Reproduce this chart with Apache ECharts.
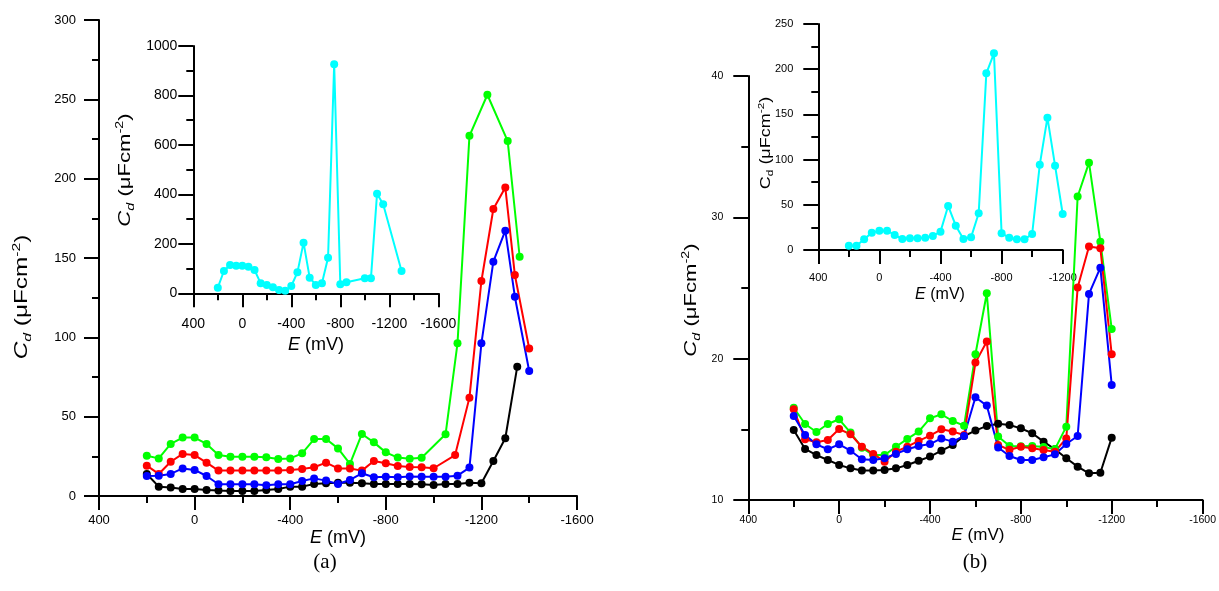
<!DOCTYPE html>
<html><head><meta charset="utf-8">
<script src="https://cdn.jsdelivr.net/npm/echarts@6/dist/echarts.min.js"></script>
<style>html,body{margin:0;padding:0;background:#fff}#c{width:1219px;height:591px}</style>
</head><body><div id="c"></div>
<script>
// ---------- Panel (a) main ----------
const aE_black = [200,150,100,50,0,-50,-100,-150,-200,-250,-300,-350,-400,-450,-500,-550,-600,-650,-700,-750,-800,-850,-900,-950,-1000,-1050,-1100,-1150,-1200,-1250,-1300,-1350];
const aCd_black = [13.9,5.9,5.3,4.4,4.4,3.8,3.4,3.2,3.2,3.2,3.8,4.4,5.9,5.9,7.6,8.0,8.4,8.4,8.0,7.6,7.6,7.6,7.6,7.4,6.9,7.6,7.6,8.4,8.0,22.1,36.4,81.5];
const aE_green = [200,150,100,50,0,-50,-100,-150,-200,-250,-300,-350,-400,-450,-500,-550,-600,-650,-700,-750,-800,-850,-900,-950,-1050,-1100,-1150,-1225,-1310,-1360];
const aCd_green = [25.4,23.7,32.8,36.8,36.8,32.8,25.8,24.8,24.8,24.8,24.4,23.3,23.7,26.9,35.9,35.9,30.0,20.2,39.1,33.8,27.5,24.2,23.5,24.1,38.9,96.2,227,252.9,223.7,150.8];
const aE_red = [200,150,100,50,0,-50,-100,-150,-200,-250,-300,-350,-400,-450,-500,-550,-600,-650,-700,-750,-800,-850,-900,-950,-1000,-1090,-1150,-1200,-1250,-1300,-1340,-1400];
const aCd_red = [19.1,13.9,21.6,26.5,25.8,21.0,16.0,16.0,16.0,16.0,16.0,16.0,16.4,17.0,18.1,21.0,17.4,17.4,16.0,22.1,20.6,18.9,18.3,18.1,17.5,25.8,62,135.5,180.9,194.5,139.3,93];
const aE_blue = [200,150,100,50,0,-50,-100,-150,-200,-250,-300,-350,-400,-450,-500,-550,-600,-650,-700,-750,-800,-850,-900,-950,-1000,-1050,-1100,-1150,-1200,-1250,-1300,-1340,-1400];
const aCd_blue = [12.6,12.8,13.9,17.4,16.4,12.6,7.4,7.4,7.4,7.4,6.7,7.4,7.4,9.5,11.1,9.7,7.6,10.1,14.3,11.8,12.2,11.8,12.3,12.2,12.2,12.2,12.8,17.9,96.2,147.7,167.2,125.6,78.8];
// ---------- Panel (a) inset ----------
const aiE_cyan = [200,150,100,50,0,-50,-100,-150,-200,-250,-300,-350,-400,-450,-500,-550,-600,-650,-700,-750,-800,-850,-1000,-1050,-1100,-1150,-1300];
const aiCd_cyan = [22.9,90.2,114.5,111.8,111.8,107.7,94.2,40.4,33.7,24.1,13.5,10.6,29.5,84.8,204.8,63.2,33.7,40.4,144.1,925.9,36.3,44.4,60.5,60.5,402.9,359.8,90.2];
// ---------- Panel (b) main ----------
const bE = [200,150,100,50,0,-50,-100,-150,-200,-250,-300,-350,-400,-450,-500,-550,-600,-650,-700,-750,-800,-850,-900,-950,-1000,-1050,-1100,-1150,-1200];
const bCd_black = [14.95,13.61,13.18,12.83,12.48,12.24,12.08,12.08,12.12,12.24,12.48,12.78,13.07,13.49,13.89,14.53,14.91,15.24,15.4,15.31,15.07,14.72,14.13,13.59,12.95,12.36,11.89,11.93,14.41];
const bCd_green = [16.53,15.38,14.81,15.38,15.71,14.77,13.70,13.18,13.18,13.77,14.32,14.84,15.78,16.06,15.59,15.26,20.31,24.63,14.5,13.82,13.8,13.82,13.75,13.6,15.19,31.47,33.87,28.28,22.1];
const bCd_red = [16.42,14.29,14.08,14.25,15.02,14.65,13.77,13.26,12.71,13.42,13.77,14.18,14.55,15.0,14.84,14.6,19.72,21.21,13.89,13.55,13.77,13.66,13.54,13.42,14.36,25.03,27.93,27.81,20.31];
const bCd_blue = [15.94,14.6,13.94,13.59,13.94,13.49,12.88,12.83,12.95,13.26,13.59,13.82,13.96,14.36,14.13,14.53,17.27,16.68,13.72,13.11,12.83,12.83,13.02,13.23,13.96,14.53,24.58,26.44,18.14];
// ---------- Panel (b) inset ----------
const biCd_cyan = [4.8,4.8,11.8,19.2,21.4,21.4,16.6,12.2,12.9,12.9,13.6,15.5,20.3,48.7,26.9,12.2,14.0,40.6,195.4,217.6,18.4,13.6,11.8,11.8,17.7,94.4,146.4,93.3,39.8];
// ---------- tick settings ----------
const xTicksMain = {min:-1600, max:400, step:400};
const xTicksInsetB = {min:-1200, max:400, step:400};
const yTicksA = {min:0, max:300, step:50};
const yTicksAI = {min:0, max:1000, step:200};
const yTicksB = {min:10, max:40, step:10};
const yTicksBI = {min:0, max:250, step:50};

const FONT = "'Liberation Sans', Arial, sans-serif";
const zip = (xs, ys) => xs.map((x, i) => [x, ys[i]]);
const plain = v => String(v);

function xAx(g, t, fs, margin) {
  return {type:'value', gridIndex:g, min:t.min, max:t.max, interval:t.step, inverse:true,
    axisLine:{show:true, onZero:false, lineStyle:{color:'#000', width:2}},
    axisTick:{show:true, length:14, lineStyle:{color:'#000', width:2}},
    minorTick:{show:true, splitNumber:2, length:7, lineStyle:{color:'#000', width:2}},
    splitLine:{show:false}, minorSplitLine:{show:false},
    axisLabel:{color:'#000', fontSize:fs, fontFamily:FONT, margin:margin, showMinLabel:true, showMaxLabel:true, formatter:plain}};
}
function yAx(g, t, fs, margin) {
  return {type:'value', gridIndex:g, min:t.min, max:t.max, interval:t.step,
    axisLine:{show:true, onZero:false, lineStyle:{color:'#000', width:2}},
    axisTick:{show:true, length:15, lineStyle:{color:'#000', width:2}},
    minorTick:{show:true, splitNumber:2, length:7, lineStyle:{color:'#000', width:2}},
    splitLine:{show:false}, minorSplitLine:{show:false},
    axisLabel:{color:'#000', fontSize:fs, fontFamily:FONT, margin:margin, showMinLabel:true, showMaxLabel:true, formatter:plain}};
}
function ser(xi, yi, data, color, size) {
  return {type:'line', xAxisIndex:xi, yAxisIndex:yi, data:data, symbol:'circle', symbolSize:size||8,
    showSymbol:true, lineStyle:{color:color, width:2}, itemStyle:{color:color}, animation:false, clip:false};
}
function cdLabel(x, y, F, italic, sx) {
  const fi = italic ? 'italic' : 'normal';
  return {type:'text', x:x, y:y, rotation:Math.PI/2, scaleX:sx||1, z:100,
    style:{text:'{c|C}{s|d}{n| (μFcm}{p|-2}{n|)}', align:'center', verticalAlign:'middle', fill:'#000',
      fontFamily:FONT, fontSize:F,
      rich:{
        c:{fontStyle:fi, fontSize:F, fontFamily:FONT, lineHeight:F*1.3, fill:'#000'},
        s:{fontStyle:fi, fontSize:F*0.65, fontFamily:FONT, verticalAlign:'bottom', lineHeight:F*0.65, fill:'#000'},
        n:{fontSize:F, fontFamily:FONT, lineHeight:F*1.3, fill:'#000'},
        p:{fontSize:F*0.65, fontFamily:FONT, verticalAlign:'top', lineHeight:F*0.65, fill:'#000'}
      }}};
}
function eLabel(x, y, F) {
  return {type:'text', x:x, y:y, z:100,
    style:{text:'{e|E}{n| (mV)}', align:'center', verticalAlign:'middle', fill:'#000', fontFamily:FONT, fontSize:F,
      rich:{e:{fontStyle:'italic', fontSize:F, fontFamily:FONT, fill:'#000'}, n:{fontSize:F, fontFamily:FONT, fill:'#000'}}}};
}

const option = {
  animation:false,
  backgroundColor:'#fff',
  grid:[
    {left:99, top:20, width:478, height:476},
    {left:193.3, top:46, width:245, height:247.3},
    {left:748.3, top:76, width:459.7, height:424},
    {left:818.3, top:24, width:244.4, height:226}
  ],
  xAxis:[xAx(0, xTicksMain, 13, 18), xAx(1, xTicksMain, 14, 24), xAx(2, xTicksMain, 10.5, 15), xAx(3, xTicksInsetB, 11, 22)],
  yAxis:[yAx(0, yTicksA, 13, 23), yAx(1, yTicksAI, 14, 16), yAx(2, yTicksB, 10.5, 25), yAx(3, yTicksBI, 11, 25)],
  series:[
    ser(0,0, zip(aE_black, aCd_black), '#000000'),
    ser(0,0, zip(aE_green, aCd_green), '#00ff00'),
    ser(0,0, zip(aE_red, aCd_red), '#ff0000'),
    ser(0,0, zip(aE_blue, aCd_blue), '#0000ff'),
    ser(1,1, zip(aiE_cyan, aiCd_cyan), '#00ffff'),
    ser(2,2, zip(bE, bCd_black), '#000000'),
    ser(2,2, zip(bE, bCd_green), '#00ff00'),
    ser(2,2, zip(bE, bCd_red), '#ff0000'),
    ser(2,2, zip(bE, bCd_blue), '#0000ff'),
    ser(3,3, zip(bE, biCd_cyan), '#00ffff')
  ],
  graphic:[
    cdLabel(22, 297, 18, true, 1.35),
    cdLabel(125, 170, 17, true, 1.3),
    cdLabel(691, 300, 17, true, 1.3),
    cdLabel(766, 143, 15, false, 1.2),
    eLabel(338, 538, 18),
    eLabel(316, 345, 18),
    eLabel(978, 535, 17),
    eLabel(940, 295, 16),
    {type:'text', x:325, y:562, z:100, style:{text:'(a)', align:'center', verticalAlign:'middle', fill:'#000', fontFamily:"'Liberation Serif', serif", fontSize:21}},
    {type:'text', x:975, y:562, z:100, style:{text:'(b)', align:'center', verticalAlign:'middle', fill:'#000', fontFamily:"'Liberation Serif', serif", fontSize:21}}
  ]
};
const chart = echarts.init(document.getElementById('c'), null, {renderer:'canvas'});
chart.setOption(option);
</script>
</body></html>
